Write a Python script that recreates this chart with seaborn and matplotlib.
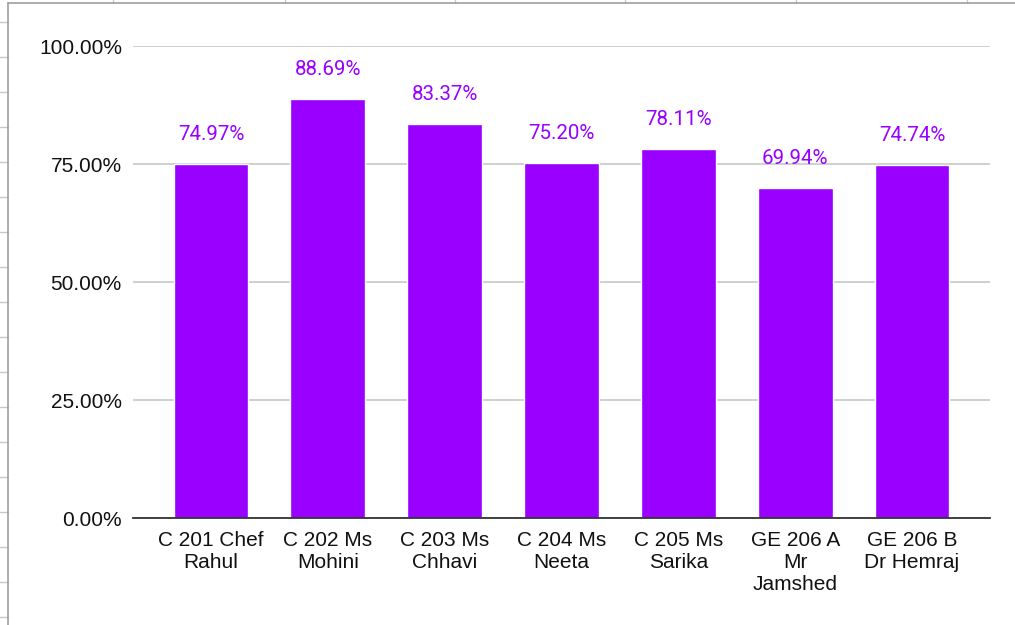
import matplotlib
matplotlib.use("Agg")
import matplotlib.pyplot as plt
from matplotlib.lines import Line2D
from matplotlib.ticker import FuncFormatter
import seaborn as sns
import pandas as pd

categories = ["C 201 Chef\nRahul", "C 202 Ms\nMohini", "C 203 Ms\nChhavi", "C 204 Ms\nNeeta",
              "C 205 Ms\nSarika", "GE 206 A\nMr\nJamshed", "GE 206 B\nDr Hemraj"]
values = [74.97, 88.69, 83.37, 75.20, 78.11, 69.94, 74.74]
yticks = [0, 25, 50, 75, 100]

sns.set_theme(style="white")
plt.rcParams['font.family'] = ['Liberation Sans', 'DejaVu Sans']

W, H = 1015, 625
fig = plt.figure(figsize=(W / 100, H / 100), dpi=100)
fig.patch.set_facecolor("white")

# spreadsheet background lines (outside the chart frame)
for x in [113, 285, 455, 625, 796, 967]:
    fig.add_artist(Line2D([x / W, x / W], [1, 1 - 3 / H], color="#c8c8c8", lw=1))
for y in range(22, 625, 35):
    fig.add_artist(Line2D([0, 8 / W], [1 - y / H, 1 - y / H], color="#c8c8c8", lw=1))
fig.add_artist(Line2D([8 / W, 8 / W], [0, 1 - 3 / H], color="#9e9e9e", lw=1.2))
fig.add_artist(Line2D([8 / W, 1], [1 - 3 / H, 1 - 3 / H], color="#9e9e9e", lw=1.2))

left, right, bottom, top = 133, 990, 518, 46
ax = fig.add_axes([left / W, 1 - bottom / H, (right - left) / W, (bottom - top) / H])

df = pd.DataFrame({"cat": categories, "val": values})
sns.barplot(data=df, x="cat", y="val", color="#9900ff", saturation=1, width=0.64, ax=ax, zorder=3)

ax.set_xlim(-0.668, 6.668)
ax.set_ylim(0, 100)
ax.set_yticks(yticks)
ax.yaxis.set_major_formatter(FuncFormatter(lambda v, p: f"{v:.2f}%"))
ax.grid(axis="y", color="#cccccc", lw=1.3, zorder=0)
ax.grid(axis="x", visible=False)
for s in ["top", "right", "left"]:
    ax.spines[s].set_visible(False)
ax.spines["bottom"].set_color("#333333")
ax.spines["bottom"].set_linewidth(1.3)
ax.spines["bottom"].set_zorder(4)
ax.tick_params(axis="both", length=0, labelsize=15, colors="#111111")
ax.tick_params(axis="y", pad=8)
ax.tick_params(axis="x", pad=9)
for lbl in ax.get_xticklabels():
    lbl.set_linespacing(1.2)
ax.set_xlabel("")
ax.set_ylabel("")

for i, v in enumerate(values):
    ax.text(i, v + 5.1, f"{v:.2f}%", ha="center", va="baseline", color="#9900ff",
            fontsize=14.8, family=["Roboto", "DejaVu Sans"])

fig.savefig("out.png", dpi=100)
